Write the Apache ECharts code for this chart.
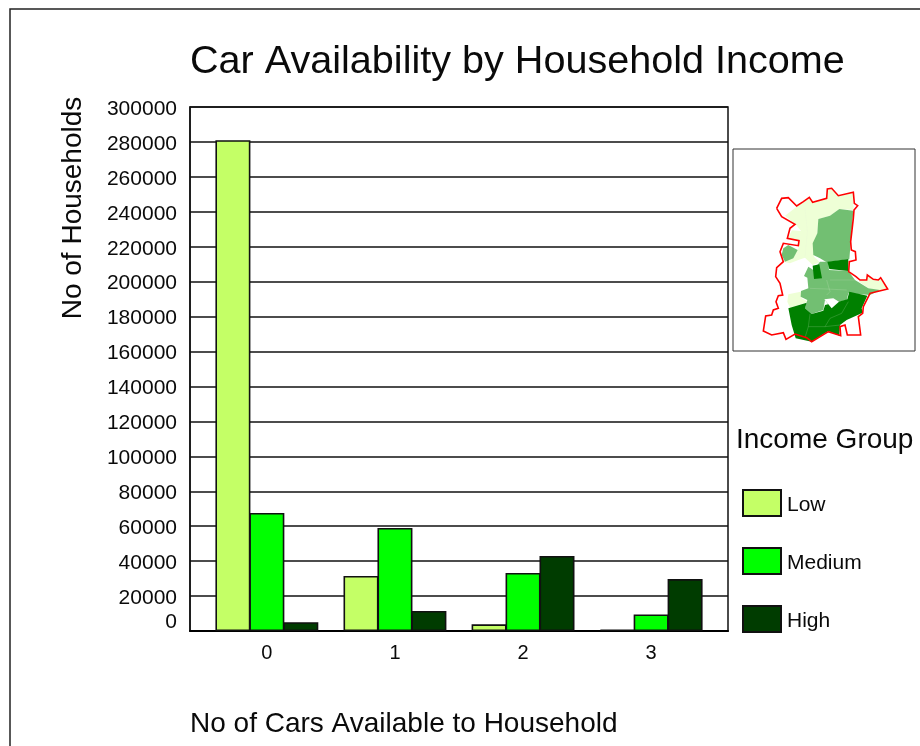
<!DOCTYPE html>
<html>
<head>
<meta charset="utf-8">
<title>Car Availability by Household Income</title>
<script src="https://cdn.jsdelivr.net/npm/echarts@6/dist/echarts.min.js"></script>
<style>
html, body { margin: 0; padding: 0; background: #fff; }
#chart { width: 920px; height: 746px; }
</style>
</head>
<body>
<div id="chart"></div>
<script>
// data
var carCounts = [0, 1, 2, 3];
var lowIncome = [281000, 31500, 3800, 800];
var mediumIncome = [67600, 59000, 33200, 9500];
var highIncome = [5000, 11500, 43000, 29700];

// inset map outlines, traced in a 3x crop of the inset
var mapBorder = [[140,190],[155,160],[175,158],[200,183],[220,170],[238,157],[248,172],[290,160],[292,132],[305,130],[325,152],[370,142],[373,175],[383,182],[372,195],[370,220],[362,290],[364,315],[376,320],[378,345],[358,350],[356,380],[378,395],[390,405],[410,405],[412,390],[430,403],[445,405],[452,398],[473,432],[448,438],[420,445],[400,485],[398,505],[385,515],[392,570],[352,570],[345,540],[330,545],[332,572],[295,560],[245,590],[230,578],[195,567],[168,583],[160,563],[125,570],[100,558],[107,513],[125,510],[130,495],[145,490],[138,470],[145,452],[158,450],[150,415],[137,395],[140,368],[160,350],[150,320],[160,295],[205,302],[207,287],[172,280],[180,250],[195,238],[155,215],[140,190]];
var mapLight = [
    [[165,212],[200,185],[238,160],[248,174],[290,162],[293,134],[305,132],[325,154],[368,144],[371,195],[328,192],[300,212],[265,222],[262,265],[250,295],[252,335],[270,352],[248,360],[225,338],[205,345],[180,355],[162,350],[205,312],[207,287],[174,278],[186,256],[213,258],[197,238]],
    [[175,448],[212,440],[215,460],[235,470],[180,488],[172,470]],
    [[385,408],[410,407],[413,392],[430,405],[445,407],[452,400],[470,432],[448,436],[415,430]]
];
var mapMedium = [
    [[265,222],[300,212],[328,192],[370,197],[358,342],[290,352],[270,340],[250,330],[248,295],[262,265]],
    [[160,310],[175,300],[203,315],[190,340],[165,350],[155,330]],
    [[235,365],[250,375],[270,350],[295,350],[297,375],[355,378],[375,405],[415,430],[450,435],[420,450],[355,445],[350,465],[325,470],[305,492],[285,465],[280,495],[245,507],[225,490],[232,465],[212,455],[213,438],[235,430],[232,398],[222,393]]
];
var mapDark = [
    [[292,350],[355,342],[355,378],[298,372]],
    [[248,362],[268,358],[276,400],[252,402]],
    [[175,490],[230,473],[225,490],[245,507],[280,497],[285,480],[325,470],[352,463],[358,440],[412,452],[395,490],[398,503],[350,525],[330,540],[328,572],[295,558],[245,590],[197,580],[185,540]]
];
var mapHole = [[283,463],[310,460],[327,470],[305,490]];
var mapRoads = [
    [[290,405],[300,440],[290,450]],
    [[300,405],[375,405]],
    [[240,430],[290,432],[350,435]],
    [[355,470],[335,505],[300,520],[285,545]],
    [[240,507],[235,545],[225,578]],
    [[235,545],[285,545],[330,540]],
    [[225,190],[232,260],[225,338]]
];

var FONT = '"Liberation Sans", Arial, sans-serif';
var INK = '#0a0a0a';

function toPage(points) {
    return points.map(function(p) {
        return [730 + p[0] / 3, 145 + p[1] / 3];
    });
}
function mapPolys(list, color) {
    return list.map(function(pts) {
        return {
            type: 'polygon',
            z: 3,
            shape: { points: toPage(pts) },
            style: { fill: color }
        };
    });
}
function mapLines(list) {
    return list.map(function(pts) {
        return {
            type: 'polyline',
            z: 3,
            shape: { points: toPage(pts) },
            style: { fill: 'none', stroke: 'rgba(225,240,215,0.3)', lineWidth: 0.6 }
        };
    });
}
function barSeries(name, values, color) {
    return {
        name: name,
        type: 'bar',
        barWidth: 35,
        barGap: '-3%',
        data: values.map(function(v, i) { return [carCounts[i], v]; }),
        itemStyle: { color: color, borderColor: '#111', borderWidth: 1.6 }
    };
}

var chart = echarts.init(document.getElementById('chart'));
var graphics = [
    // outer frame runs off the page on the right and bottom
    { type: 'rect', z: 1, shape: { x: 10, y: 9, width: 930, height: 760 }, style: { fill: 'none', stroke: '#222', lineWidth: 1.5 } },
    { type: 'rect', z: 2, shape: { x: 733, y: 149, width: 182, height: 202 }, style: { fill: '#fff', stroke: '#333', lineWidth: 1 } },
    { type: 'text', z: 5, x: 73, y: 208, rotation: Math.PI / 2, style: { text: 'No of Households', fontFamily: FONT, fontSize: 28, fill: INK, align: 'center', verticalAlign: 'middle' } }
];
graphics = graphics.concat(mapPolys(mapLight, '#eeffd6'), mapPolys(mapMedium, '#72bf72'), mapPolys(mapDark, '#008000'), mapPolys([mapHole], '#fff'), mapLines(mapRoads));
graphics.push({ type: 'polyline', z: 4, shape: { points: toPage(mapBorder) }, style: { fill: 'none', stroke: '#ff0000', lineWidth: 1.6 } });

var option = {
    animation: false,
    backgroundColor: '#fff',
    textStyle: { fontFamily: FONT, color: INK },
    title: [
        { text: 'Car Availability by Household Income', left: 185, top: 37, textStyle: { fontFamily: FONT, fontSize: 39.6, fontWeight: 'normal', color: INK } },
        { text: 'Income Group', left: 731, top: 421, textStyle: { fontFamily: FONT, fontSize: 28, fontWeight: 'normal', color: INK } },
        { text: 'No of Cars Available to Household', left: 185, top: 705, textStyle: { fontFamily: FONT, fontSize: 28, fontWeight: 'normal', color: INK } }
    ],
    legend: {
        left: 737,
        top: 484,
        orient: 'vertical',
        icon: 'rect',
        itemWidth: 38,
        itemHeight: 26,
        itemGap: 30,
        selectedMode: false,
        formatter: function(name) { return '{t|' + name + '}'; },
        textStyle: {
            fontFamily: FONT,
            fontSize: 21,
            color: INK,
            rich: { t: { fontFamily: FONT, fontSize: 21, color: INK, padding: [4, 0, 0, 1] } }
        },
        data: ['Low', 'Medium', 'High']
    },
    grid: { left: 190, top: 107, width: 538, height: 524, show: true, borderColor: '#111', borderWidth: 1.5, backgroundColor: 'transparent' },
    xAxis: {
        type: 'value',
        min: -0.6,
        max: 3.6,
        splitLine: { show: false },
        axisTick: { show: false },
        axisLine: { onZero: false, lineStyle: { color: '#000', width: 2 } },
        axisLabel: { customValues: carCounts, margin: 12, fontFamily: FONT, fontSize: 20, color: INK }
    },
    yAxis: {
        type: 'value',
        min: 0,
        max: 300000,
        interval: 20000,
        axisTick: { show: false },
        axisLine: { show: true, onZero: false, lineStyle: { color: '#111', width: 1.5 } },
        splitLine: { show: true, lineStyle: { color: '#111', width: 1.5 } },
        axisLabel: {
            margin: 13,
            fontFamily: FONT,
            fontSize: 21,
            color: INK,
            // the 0 label sits well above its gridline in the original
            formatter: function(v) {
                return v === 0 ? '{z|0}' : '{n|' + v + '}';
            },
            rich: {
                n: { fontFamily: FONT, fontSize: 21, color: INK, padding: [4, 0, 0, 0] },
                z: { fontFamily: FONT, fontSize: 21, color: INK, padding: [0, 0, 18, 0] }
            }
        }
    },
    series: [
        barSeries('Low', lowIncome, '#c4ff66'),
        barSeries('Medium', mediumIncome, '#00ff00'),
        barSeries('High', highIncome, '#003c00')
    ],
    graphic: graphics
};
chart.setOption(option);
</script>
</body>
</html>
